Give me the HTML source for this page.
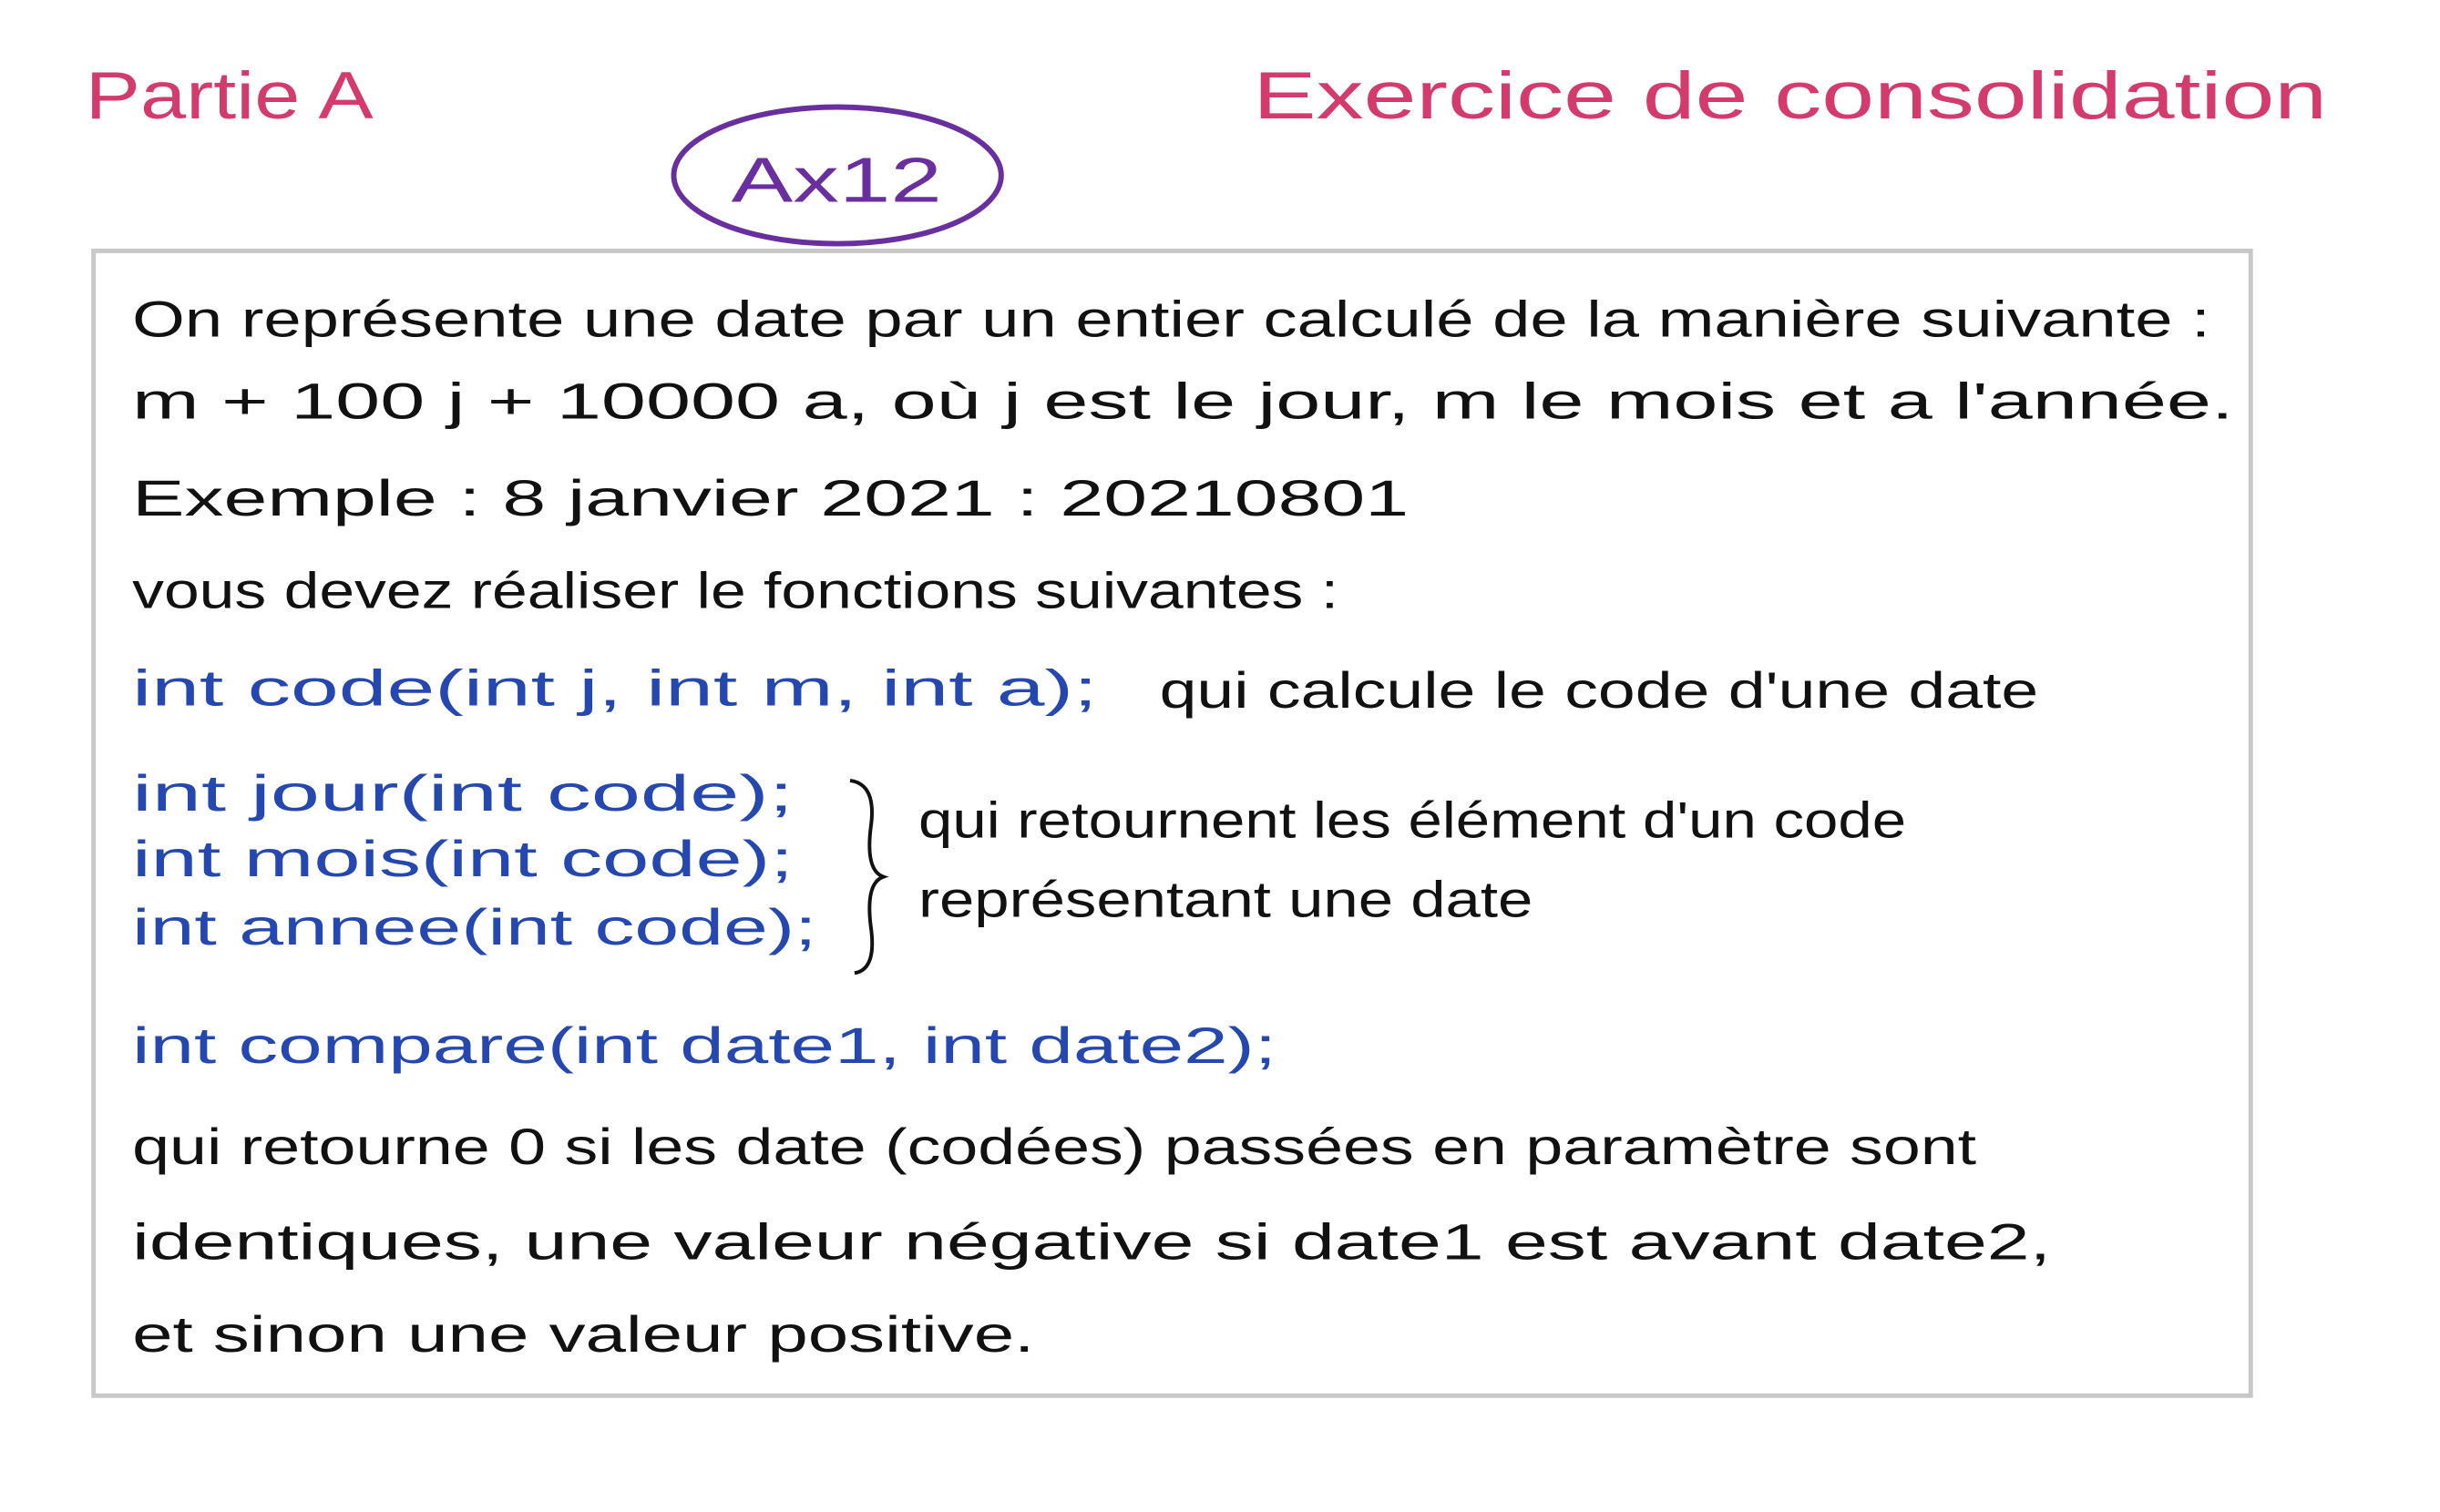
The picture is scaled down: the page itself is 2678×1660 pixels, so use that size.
<!DOCTYPE html>
<html><head><meta charset="utf-8"><style>
html,body{margin:0;padding:0;background:#fff;}
svg{display:block;}
text{font-family:"Liberation Sans",sans-serif;dominant-baseline:central;}
.k{fill:#111;font-size:56px;}
.b{fill:#2548b0;font-size:56px;}
</style></head><body>
<svg width="2678" height="1660" viewBox="0 0 2678 1660" xmlns="http://www.w3.org/2000/svg">
<rect width="2678" height="1660" fill="#fff"/>
<g transform="scale(0.9873)">
<text x="95" y="107" fill="#d23b6c" font-size="74" textLength="320" lengthAdjust="spacingAndGlyphs">Partie A</text>
<text x="1393" y="107" fill="#d23b6c" font-size="74" textLength="1194" lengthAdjust="spacingAndGlyphs">Exercice de consolidation</text>
<ellipse cx="931" cy="195" rx="182" ry="76" fill="none" stroke="#6a2f9e" stroke-width="6"/>
<text x="813" y="200" fill="#6a2f9e" font-size="70" textLength="234" lengthAdjust="spacingAndGlyphs">Ax12</text>
<rect x="104" y="279" width="2398" height="1273" fill="none" stroke="#c8c8c8" stroke-width="5"/>
<text class="k" x="147" y="355" textLength="2310" lengthAdjust="spacingAndGlyphs">On représente une date par un entier calculé de la manière suivante :</text>
<text class="k" x="147" y="446" textLength="2336" lengthAdjust="spacingAndGlyphs">m + 100 j + 10000 a, où j est le jour, m le mois et a l'année.</text>
<text class="k" x="147" y="554" textLength="1419" lengthAdjust="spacingAndGlyphs">Exemple : 8 janvier 2021 : 20210801</text>
<text class="k" x="147" y="657" textLength="1341" lengthAdjust="spacingAndGlyphs">vous devez réaliser le fonctions suivantes :</text>
<text class="b" x="147" y="765" textLength="1073" lengthAdjust="spacingAndGlyphs">int code(int j, int m, int a);</text>
<text class="k" x="1289" y="768" textLength="977" lengthAdjust="spacingAndGlyphs">qui calcule le code d'une date</text>
<text class="b" x="147" y="882" textLength="735" lengthAdjust="spacingAndGlyphs">int jour(int code);</text>
<text class="b" x="147" y="955" textLength="735" lengthAdjust="spacingAndGlyphs">int  mois(int code);</text>
<text class="b" x="147" y="1031" textLength="761" lengthAdjust="spacingAndGlyphs">int annee(int code);</text>
<path d="M945 868 Q975 872 968 920 Q962 968 982 975 Q962 982 968 1030 Q975 1078 950 1082" fill="none" stroke="#111" stroke-width="4"/>
<text class="k" x="1021" y="912" textLength="1098" lengthAdjust="spacingAndGlyphs">qui retournent les élément d'un code</text>
<text class="k" x="1021" y="1000" textLength="683" lengthAdjust="spacingAndGlyphs">représentant une date</text>
<text class="b" x="147" y="1163" textLength="1272" lengthAdjust="spacingAndGlyphs">int compare(int date1, int date2);</text>
<text class="k" x="147" y="1275" textLength="2050" lengthAdjust="spacingAndGlyphs">qui retourne 0 si les date (codées) passées en paramètre sont</text>
<text class="k" x="147" y="1381" textLength="2133" lengthAdjust="spacingAndGlyphs">identiques, une valeur négative si date1 est avant date2,</text>
<text class="k" x="147" y="1484" textLength="1003" lengthAdjust="spacingAndGlyphs">et sinon une valeur positive.</text>
</g>
</svg>
</body></html>
